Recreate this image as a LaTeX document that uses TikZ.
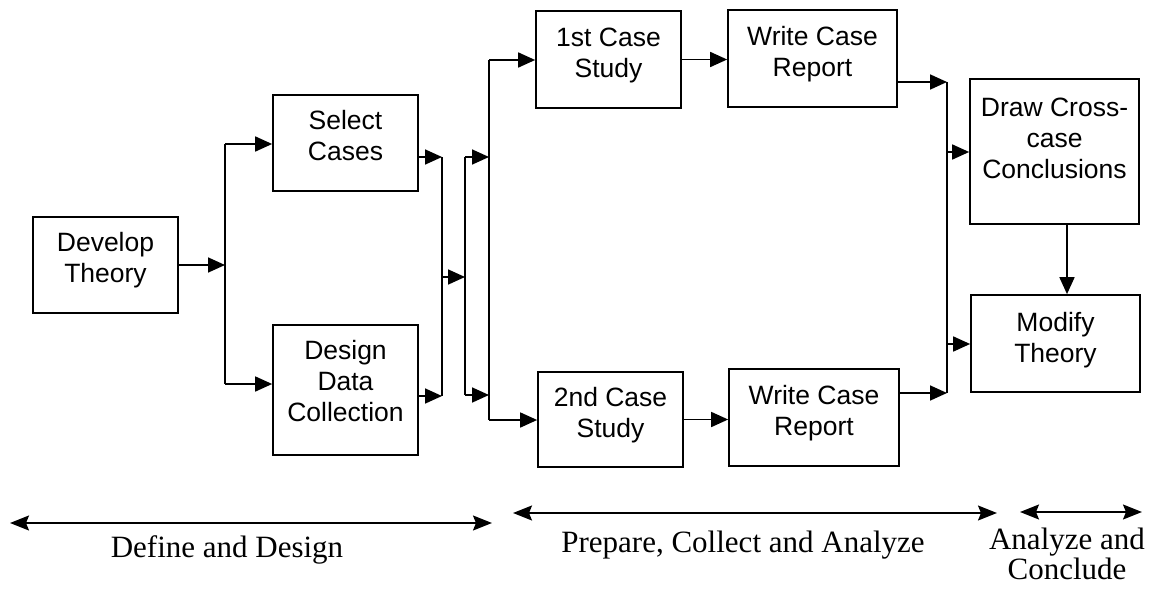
\documentclass[tikz,border=0pt]{standalone}
\usepackage{fontspec}
\setmainfont{Liberation Serif}
\newfontfamily\sansf{Liberation Sans}
\usetikzlibrary{arrows.meta}
\newcommand\btext[2][4pt]{\raisebox{#1}[\height][\depth]{\begin{tabular}{@{}c@{}}#2\end{tabular}}}
\tikzset{
  procbox/.style={draw, line width=1.7pt, inner sep=0pt, font=\sansf\fontsize{26.5}{31}\selectfont},
  conn/.style={line width=1.7pt},
  arr/.style={conn, -{Triangle[length=17pt,width=15pt]}},
  span/.style={line width=1.8pt, {Stealth[length=19pt,width=15pt,inset=3pt]}-{Stealth[length=19pt,width=15pt,inset=3pt]}},
  phase/.style={font=\fontsize{31}{27}\selectfont, inner sep=0pt}
}
\begin{document}
\begin{tikzpicture}[x=1pt,y=-1pt]
\useasboundingbox (0,0) rectangle (1160,594);
% boxes
\node[procbox, minimum width=145pt, minimum height=96pt] (dt) at (105.5,265) {\btext{Develop\\Theory}};
\node[procbox, minimum width=145pt, minimum height=96pt] (sc) at (345.5,143) {\btext{Select\\Cases}};
\node[procbox, minimum width=145pt, minimum height=130pt] (ddc) at (345.5,390) {\btext[6pt]{Design\\Data\\Collection}};
\node[procbox, minimum width=145pt, minimum height=97pt] (cs1) at (608.5,59.5) {\btext{1st Case\\Study}};
\node[procbox, minimum width=169pt, minimum height=97pt] (wr1) at (812.5,58.5) {\btext{Write Case\\Report}};
\node[procbox, minimum width=145pt, minimum height=95pt] (cs2) at (610.5,419.5) {\btext{2nd Case\\Study}};
\node[procbox, minimum width=170pt, minimum height=97pt] (wr2) at (814,417.5) {\btext{Write Case\\Report}};
\node[procbox, minimum width=169pt, minimum height=145pt] (dcc) at (1054.5,151.5) {\btext[10pt]{Draw Cross-\\case\\Conclusions}};
\node[procbox, minimum width=169pt, minimum height=97pt] (mt) at (1055.5,343.5) {\btext[3pt]{Modify\\Theory}};
% junction points
\coordinate (j1) at (225,265);
\coordinate (j1t) at (225,144);
\coordinate (j1b) at (225,384);
\coordinate (k1t) at (442,157);
\coordinate (k1b) at (442,396);
\coordinate (k1m) at (442,277);
\coordinate (m1m) at (465,277);
\coordinate (m1t) at (465,157);
\coordinate (m1b) at (465,395);
\coordinate (n1u) at (489,157);
\coordinate (n1d) at (489,395);
\coordinate (n1t) at (489,60);
\coordinate (n1b) at (489,420);
\coordinate (p1t) at (947,82);
\coordinate (p1b) at (947,393);
\coordinate (p1u) at (947,152);
\coordinate (p1d) at (947,344);
\coordinate (q) at (1067,0);
% connectors
\draw[arr] (dt.east) -- (j1);
\draw[conn] (j1t) -- (j1b);
\draw[arr] (j1t) -- (j1t -| sc.west);
\draw[arr] (j1b) -- (j1b -| ddc.west);
\draw[arr] (k1t -| sc.east) -- (k1t);
\draw[arr] (k1b -| ddc.east) -- (k1b);
\draw[conn] (k1t) -- (k1b);
\draw[arr] (k1m) -- (m1m);
\draw[conn] (m1t) -- (m1b);
\draw[arr] (m1t) -- (n1u);
\draw[arr] (m1b) -- (n1d);
\draw[conn] (n1t) -- (n1b);
\draw[arr] (n1t) -- (n1t -| cs1.west);
\draw[arr] (n1b) -- (n1b -| cs2.west);
\draw[arr] (cs1.east) -- (cs1.east -| wr1.west);
\draw[arr] (cs2.east) -- (cs2.east -| wr2.west);
\draw[arr] (p1t -| wr1.east) -- (p1t);
\draw[arr] (p1b -| wr2.east) -- (p1b);
\draw[conn] (p1t) -- (p1b);
\draw[arr] (p1u) -- (p1u -| dcc.west);
\draw[arr] (p1d) -- (p1d -| mt.west);
\draw[arr] (dcc.south -| q) -- (mt.north -| q);
% phase spans
\coordinate (s1a) at (10,523);
\coordinate (s1b) at (492,523);
\coordinate (s2a) at (513,513);
\coordinate (s2b) at (997,513);
\coordinate (s3a) at (1020,512);
\coordinate (s3b) at (1142,512);
\draw[span] (s1a) -- (s1b);
\draw[span] (s2a) -- (s2b);
\draw[span] (s3a) -- (s3b);
\node[phase, anchor=base] (l1) at (227,557) {Define and Design};
\node[phase, anchor=base] (l2) at (743,552) {Prepare, Collect and Analyze};
\node[phase] (l3) at (1067,558) {\begin{tabular}{@{}c@{}}Analyze and\\Conclude\end{tabular}};
\end{tikzpicture}
\end{document}
